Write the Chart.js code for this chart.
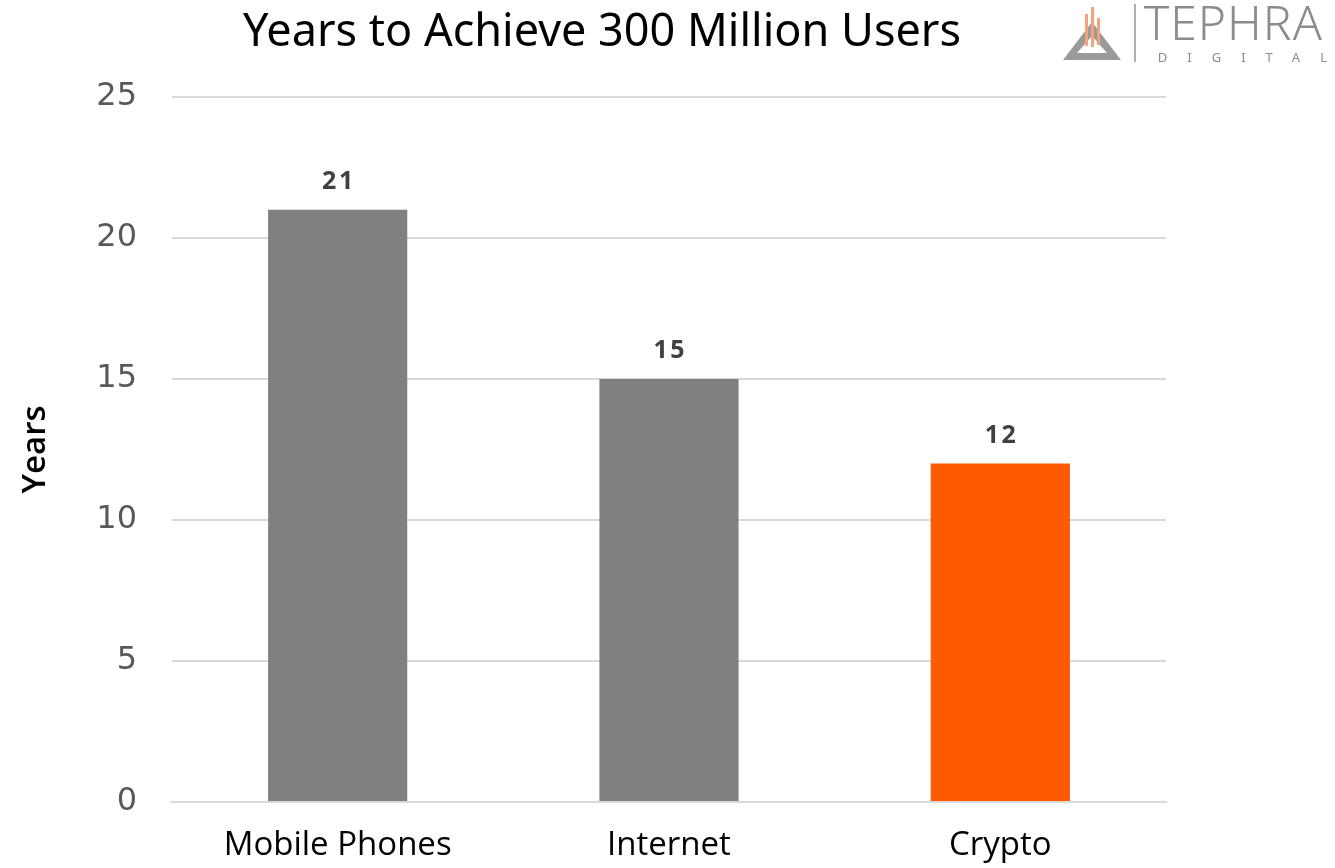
<!DOCTYPE html>
<html>
<head>
<meta charset="utf-8">
<script src="https://cdn.jsdelivr.net/npm/chart.js@4"></script>
<style>
    html, body { margin: 0; padding: 0; background: #ffffff; }
    #wrap { position: relative; width: 1335px; height: 868px; overflow: hidden; }
    #logo { position: absolute; right: -12px; top: 0px; display: flex; align-items: center; font-family: 'Noto Sans', sans-serif; color: #8c8c8c; }
    #logo .sep { width: 2px; height: 58px; background: #b0b0b0; margin: 0 8px 0 12px; }
    #logo .name { font-size: 48px; line-height: 44px; letter-spacing: 1px; font-weight: 300; }
    #logo .sub { font-size: 13px; letter-spacing: 20px; margin-top: 4px; padding-left: 14px; }
</style>
</head>
<body>
<div id="wrap">
    <canvas id="chart" width="1335" height="868"></canvas>
    <div id="logo">
        <svg width="60" height="58" viewBox="0 0 60 58">
            <polygon points="30,18 59,56 1,56" fill="#9a9a9a"></polygon>
            <polygon points="30,32 45,49 15,49" fill="#ffffff"></polygon>
            <rect x="23" y="10" width="3" height="32" fill="#f4a27c"></rect>
            <rect x="29" y="3" width="3" height="40" fill="#f4a27c"></rect>
            <rect x="35" y="14" width="3" height="27" fill="#f4a27c"></rect>
        </svg>
        <div class="sep"></div>
        <div>
            <div class="name">TEPHRA</div>
            <div class="sub">DIGITAL</div>
        </div>
    </div>
</div>
<script>
const categories = ['Mobile Phones', 'Internet', 'Crypto'];
const years = [21, 15, 12];
const barColors = ['#808080', '#808080', '#ff5a00'];
const yTicks = [0, 5, 10, 15, 20, 25];

const chartTitle = 'Years to Achieve 300 Million Users';

const valueLabels = {
    id: 'valueLabels',
    afterDatasetsDraw(chart) {
        const ctx = chart.ctx;
        const meta = chart.getDatasetMeta(0);
        ctx.save();
        ctx.font = 'bold 25px "Open Sans", sans-serif';
        ctx.fillStyle = '#404040';
        ctx.textAlign = 'center';
        ctx.textBaseline = 'middle';
        meta.data.forEach((bar, i) => {
            ctx.fillText(String(years[i]).split('').join(String.fromCharCode(8202)), bar.x, bar.y - 28);
        });
        ctx.restore();
    }
};

const titleDraw = {
    id: 'titleDraw',
    afterDraw(chart) {
        const ctx = chart.ctx;
        ctx.save();
        ctx.font = '45px "Noto Sans", sans-serif';
        ctx.fillStyle = '#000000';
        ctx.textAlign = 'center';
        ctx.textBaseline = 'middle';
        ctx.fillText(chartTitle, 602, 33);
        ctx.restore();
    }
};

new Chart(document.getElementById('chart'), {
    type: 'bar',
    data: {
        labels: categories,
        datasets: [{
            label: 'Years',
            data: years,
            backgroundColor: barColors,
            borderWidth: 0,
            barPercentage: 0.42,
            categoryPercentage: 1.0
        }]
    },
    options: {
        responsive: false,
        animation: false,
        layout: {
            padding: { top: 97, right: 169, bottom: 0, left: 0 }
        },
        plugins: {
            legend: { display: false },
            title: { display: false },
            tooltip: { enabled: false }
        },
        scales: {
            x: {
                grid: { display: false },
                border: { color: '#d9d9d9', width: 2 },
                ticks: {
                    color: '#000000',
                    padding: 16,
                    font: { size: 33, family: '"Open Sans", sans-serif' }
                },
                afterFit(scale) { scale.height = 66; }
            },
            y: {
                min: 0,
                max: 25,
                afterBuildTicks(scale) {
                    scale.ticks = yTicks.map(v => ({ value: v }));
                },
                grid: { color: '#d9d9d9', lineWidth: 2, drawTicks: false },
                border: { display: false },
                ticks: {
                    color: '#595959',
                    padding: 35,
                    font: { size: 32, family: '"DejaVu Sans", sans-serif' }
                },
                title: {
                    display: true,
                    text: 'Years',
                    color: '#000000',
                    padding: { top: 16, bottom: 0 },
                    font: { size: 33, weight: '600', family: '"Open Sans", sans-serif' }
                },
                afterFit(scale) { scale.width = 172; }
            }
        }
    },
    plugins: [valueLabels, titleDraw]
});
</script>
</body>
</html>
